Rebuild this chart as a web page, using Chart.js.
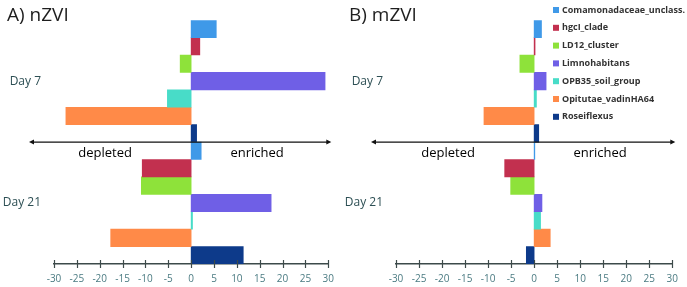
<!DOCTYPE html>
<html>
<head>
<meta charset="utf-8">
<script src="https://cdn.jsdelivr.net/npm/chart.js@4"></script>
<style>
  html, body { margin: 0; padding: 0; background: #fff; }
  #wrap { position: relative; width: 687px; height: 287px; }
  .panel { position: absolute; top: 0; height: 287px; }
  #left { left: 0; width: 343px; }
  #right { left: 343px; width: 344px; }
</style>
</head>
<body>
<div id="wrap">
  <div class="panel" id="left"><canvas id="chartA" width="343" height="287"></canvas></div>
  <div class="panel" id="right"><canvas id="chartB" width="344" height="287"></canvas></div>
</div>
<script>
// categories (sampling days) and taxa
const days = ['Day 7', 'Day 21'];
const taxa = ['Comamonadaceae_unclass.', 'hgcI_clade', 'LD12_cluster', 'Limnohabitans',
  'OPB35_soil_group', 'Opitutae_vadinHA64', 'Roseiflexus'];
const taxaColors = ['#3f99e8', '#c2304f', '#8ee23a', '#6f5fe6', '#48dcc8', '#ff8a48', '#0d3a8a'];

// change per taxon, [Day 7, Day 21]
const nzviComamonadaceae = [5.5, 2.2];
const nzviHgcI = [1.9, -10.7];
const nzviLD12 = [-2.4, -10.9];
const nzviLimnohabitans = [29.3, 17.5];
const nzviOPB35 = [-5.2, 0.3];
const nzviOpitutae = [-27.4, -17.6];
const nzviRoseiflexus = [1.2, 11.4];

const mzviComamonadaceae = [1.6, 0.15];
const mzviHgcI = [0.2, -6.4];
const mzviLD12 = [-3.1, -5.1];
const mzviLimnohabitans = [2.6, 1.7];
const mzviOPB35 = [0.5, 1.4];
const mzviOpitutae = [-10.9, 3.5];
const mzviRoseiflexus = [1.0, -1.7];

const xTicks = [-30, -25, -20, -15, -10, -5, 0, 5, 10, 15, 20, 25, 30];

const nzviSeries = [nzviComamonadaceae, nzviHgcI, nzviLD12, nzviLimnohabitans, nzviOPB35, nzviOpitutae, nzviRoseiflexus];
const mzviSeries = [mzviComamonadaceae, mzviHgcI, mzviLD12, mzviLimnohabitans, mzviOPB35, mzviOpitutae, mzviRoseiflexus];

// ticks crossing the axis line, double arrow, labels, title
const decorPlugin = {
  id: 'decor',
  afterDraw(chart, args, opts) {
    const ctx = chart.ctx;
    const xs = chart.scales.x;
    const area = chart.chartArea;
    ctx.save();

    // tick marks through the axis
    ctx.strokeStyle = '#3c4a4a';
    ctx.lineWidth = 1.2;
    xs.ticks.forEach(t => {
      const px = Math.round(xs.getPixelForValue(t.value)) + 0.5;
      ctx.beginPath();
      ctx.moveTo(px, area.bottom - 4);
      ctx.lineTo(px, area.bottom + 4);
      ctx.stroke();
    });

    // double headed arrow in the middle
    const ay = (area.top + area.bottom) / 2;
    const x1 = area.left - 25, x2 = area.right + 3;
    ctx.strokeStyle = '#111';
    ctx.fillStyle = '#111';
    ctx.lineWidth = 1.2;
    ctx.beginPath();
    ctx.moveTo(x1 + 2, ay);
    ctx.lineTo(x2 - 2, ay);
    ctx.stroke();
    ctx.beginPath();
    ctx.moveTo(x1, ay); ctx.lineTo(x1 + 5, ay - 2.5); ctx.lineTo(x1 + 5, ay + 2.5); ctx.closePath();
    ctx.fill();
    ctx.beginPath();
    ctx.moveTo(x2, ay); ctx.lineTo(x2 - 5, ay - 2.5); ctx.lineTo(x2 - 5, ay + 2.5); ctx.closePath();
    ctx.fill();

    // depleted / enriched
    const zero = xs.getPixelForValue(0);
    ctx.font = '13px "Open Sans"';
    ctx.fillStyle = '#000';
    ctx.textAlign = 'center';
    ctx.textBaseline = 'middle';
    ctx.fillText('depleted', zero - 86, ay + 11);
    ctx.fillText('enriched', zero + 66, ay + 11);

    // panel title
    ctx.font = '19px "Open Sans"';
    ctx.fillStyle = '#1e1e1e';
    ctx.textAlign = 'left';
    ctx.textBaseline = 'alphabetic';
    ctx.fillText(opts.title, opts.titleX, 21);

    // legend (only on the right panel)
    if (opts.legend) {
      ctx.font = 'bold 9px "Open Sans"';
      ctx.textBaseline = 'middle';
      chart.data.datasets.forEach((ds, i) => {
        const y = 10 + i * 17.8;
        ctx.fillStyle = ds.backgroundColor;
        ctx.fillRect(opts.legendX, y - 3, 6, 6);
        ctx.fillStyle = '#333';
        ctx.fillText(ds.label, opts.legendX + 9, y);
      });
    }
    ctx.restore();
  }
};

function makeChart(id, series, leftWidth, rightPad, decor) {
  return new Chart(document.getElementById(id), {
    type: 'bar',
    data: {
      labels: days,
      datasets: taxa.map((name, i) => ({
        label: name,
        data: series[i],
        backgroundColor: taxaColors[i],
        borderWidth: 0,
        categoryPercentage: 1,
        barPercentage: 1
      }))
    },
    options: {
      indexAxis: 'y',
      responsive: false,
      animation: false,
      layout: { padding: { top: 4, right: rightPad, left: 0, bottom: 0 } },
      scales: {
        x: {
          min: -30,
          max: 30,
          afterBuildTicks: s => { s.ticks = xTicks.map(v => ({ value: v })); },
          afterFit: s => { s.height = 23; },
          grid: { display: false, drawTicks: false },
          border: { display: true, color: '#3c4a4a', width: 1.5 },
          ticks: { color: '#4b7b82', font: { family: 'Open Sans', size: 10 }, padding: 9, maxRotation: 0 }
        },
        y: {
          afterFit: s => { s.width = leftWidth; },
          grid: { display: false, drawTicks: false },
          border: { display: false },
          ticks: { color: '#2d4f54', font: { family: 'Open Sans', size: 12 }, padding: 13 }
        }
      },
      plugins: {
        legend: { display: false },
        tooltip: { enabled: false },
        decor: decor
      }
    },
    plugins: [decorPlugin]
  });
}

makeChart('chartA', nzviSeries, 54, 14, { title: 'A) nZVI', titleX: 7, legend: false });
makeChart('chartB', mzviSeries, 53, 10, { title: 'B) mZVI', titleX: 6, legend: true, legendX: 210 });
</script>
</body>
</html>
